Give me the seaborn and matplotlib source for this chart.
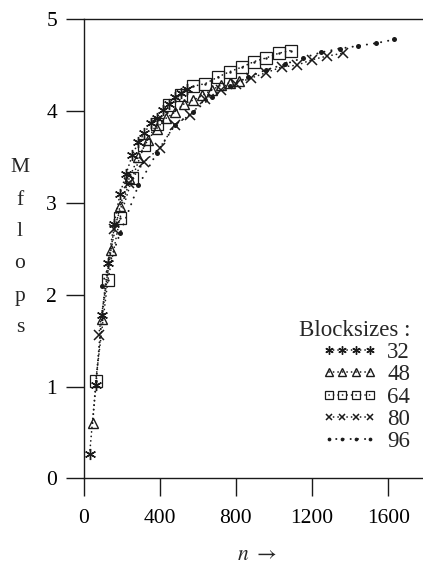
import matplotlib
matplotlib.use("Agg")
import matplotlib.pyplot as plt
from matplotlib.lines import Line2D
import seaborn as sns
import pandas as pd

# Matrix order n for each block size (k * blocksize, k = 1..17)
n_32 = [32, 64, 96, 128, 160, 192, 224, 256, 288, 320, 352, 384, 416, 448, 480, 512, 544]
n_48 = [48, 96, 144, 192, 240, 288, 336, 384, 432, 480, 528, 576, 624, 672, 720, 768, 816]
n_64 = [64, 128, 192, 256, 320, 384, 448, 512, 576, 640, 704, 768, 832, 896, 960, 1024, 1088]
n_80 = [80, 160, 240, 320, 400, 480, 560, 640, 720, 800, 880, 960, 1040, 1120, 1200, 1280, 1360]
n_96 = [96, 192, 288, 384, 480, 576, 672, 768, 864, 960, 1056, 1152, 1248, 1344, 1440, 1536, 1632]

# Measured performance in Mflops
mflops_32 = [0.26, 1.02, 1.78, 2.34, 2.77, 3.10, 3.32, 3.52, 3.66, 3.76, 3.87, 3.93, 4.01, 4.08, 4.15, 4.20, 4.24]
mflops_48 = [0.60, 1.74, 2.49, 2.97, 3.27, 3.50, 3.68, 3.81, 3.92, 3.99, 4.08, 4.12, 4.17, 4.23, 4.28, 4.31, 4.33]
mflops_64 = [1.06, 2.16, 2.84, 3.27, 3.63, 3.86, 4.07, 4.18, 4.27, 4.30, 4.37, 4.43, 4.48, 4.54, 4.58, 4.63, 4.66]
mflops_80 = [1.56, 2.72, 3.22, 3.45, 3.60, 3.85, 3.96, 4.13, 4.23, 4.30, 4.36, 4.42, 4.48, 4.50, 4.56, 4.60, 4.63]
mflops_96 = [2.10, 2.67, 3.19, 3.54, 3.85, 3.99, 4.15, 4.27, 4.37, 4.45, 4.51, 4.58, 4.64, 4.68, 4.71, 4.74, 4.78]

blocksizes = ["32", "48", "64", "80", "96"]
x_ticks = [0, 400, 800, 1200, 1600]
y_ticks = [0, 1, 2, 3, 4, 5]

sns.set_theme(style="ticks")
plt.rcParams["font.family"] = ["Liberation Serif", "DejaVu Serif"]
plt.rcParams["mathtext.fontset"] = "stix"

INK = "#1a1a1a"
FS = 15.5
LEG_FS = 16.5

fig = plt.figure(figsize=(4.23, 5.66), dpi=100)
ax = fig.add_axes([83.5 / 423, (566 - 478.3) / 566, (423 - 83.5) / 423, 459 / 566])

dotted = dict(linestyle=(0, (0.1, 2.6)), linewidth=1.2, dash_capstyle="round")
styles = {
    "32": dict(marker=(6, 2, 0), markersize=8, markeredgewidth=1.0, **dotted),
    "48": dict(marker="^", markersize=7, markerfacecolor="none", markeredgewidth=1.0,
               **dotted),
    "64": dict(marker="s", markersize=8, markerfacecolor="none", markeredgewidth=0.9,
               **dotted),
    "80": dict(marker="x", markersize=6.5, markeredgewidth=1.1, **dotted),
    "96": dict(marker="o", markersize=3.6, markeredgewidth=0,
               linestyle=(0, (0.1, 3.6)), linewidth=1.4, dash_capstyle="round"),
}

series = {
    "32": (n_32, mflops_32),
    "48": (n_48, mflops_48),
    "64": (n_64, mflops_64),
    "80": (n_80, mflops_80),
    "96": (n_96, mflops_96),
}

for bs in blocksizes:
    n, y = series[bs]
    df = pd.DataFrame({"n": n, "mflops": y})
    st = styles[bs]
    sns.lineplot(data=df, x="n", y="mflops", ax=ax, color=INK, markeredgecolor=INK,
                 **st, zorder=3)
    if bs == "64":
        # small centre dot inside each square
        sns.scatterplot(data=df, x="n", y="mflops", ax=ax, color=INK, s=3,
                        linewidth=0, zorder=4)

ax.set_xlim(0, 1782)
ax.set_ylim(0, 5)
ax.set_xticks(x_ticks)
ax.set_yticks(y_ticks)
ax.set_xticklabels([str(v) for v in x_ticks], fontsize=FS)
ax.set_yticklabels([str(v) for v in y_ticks], fontsize=FS)
ax.tick_params(axis="both", direction="out", length=13, width=1.0, color=INK,
               labelcolor="black")
ax.tick_params(axis="x", pad=9)
ax.tick_params(axis="y", pad=6)
for side in ["left", "bottom", "top"]:
    ax.spines[side].set_visible(True)
    ax.spines[side].set_linewidth(1.0)
    ax.spines[side].set_color(INK)
ax.spines["right"].set_visible(False)
ax.set_xlabel("")
ax.set_ylabel("")

# vertical stacked y-axis label
for i, ch in enumerate("Mflops"):
    fig.text(20 / 423, 1 - (168 + i * 32) / 566, ch, fontsize=FS,
             ha="center", va="center")

fig.text(257 / 423, 1 - 556 / 566, r"$n\ \rightarrow$", fontsize=FS,
         ha="center", va="center")

# legend
handles = []
for bs in blocksizes:
    st = dict(styles[bs])
    handles.append(Line2D([], [], color=INK, markeredgecolor=INK, **st))
leg = ax.legend(handles, blocksizes, title="Blocksizes :", loc="upper right",
                bbox_to_anchor=(410 / 423, 1 - 320 / 566),
                bbox_transform=fig.transFigure, frameon=False, numpoints=4,
                handlelength=2.4, handletextpad=0.45, labelspacing=0.05,
                borderpad=0, borderaxespad=0, markerscale=0.75,
                fontsize=LEG_FS, title_fontsize=LEG_FS)
leg._legend_box.align = "right"

fig.savefig("out.png", dpi=100, facecolor="white")
